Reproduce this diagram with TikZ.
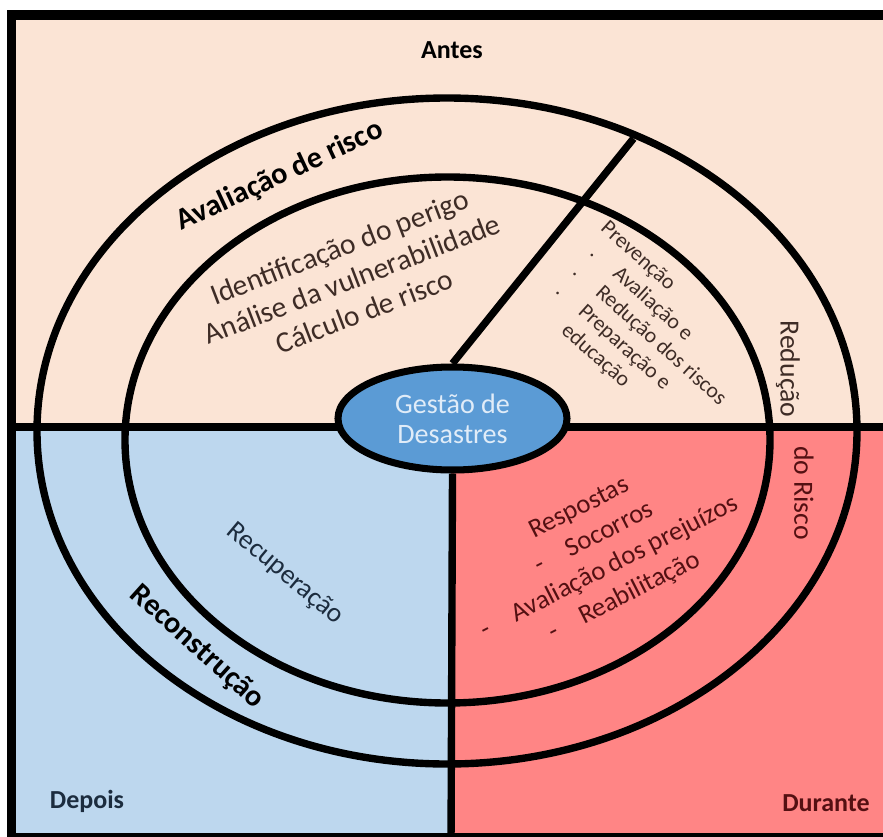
\documentclass[tikz,border=0pt]{standalone}
\usepackage{fontspec}
\setmainfont{Carlito}
\usepackage{xcolor}
\usetikzlibrary{shapes.geometric}

\definecolor{antesCor}{RGB}{251,228,213}
\definecolor{depoisCor}{RGB}{189,215,238}
\definecolor{duranteCor}{RGB}{255,133,133}
\definecolor{gestaoCor}{RGB}{91,155,213}
\definecolor{textoAntes}{RGB}{62,44,38}
\definecolor{textoDepois}{RGB}{28,44,62}
\definecolor{textoDurante}{RGB}{84,16,18}
\definecolor{textoGestao}{RGB}{224,236,248}

\tikzset{
  linha/.style={line width=2.1pt},
  rotulo/.style={inner sep=0pt, font=\fontsize{7.4}{8.8}\selectfont\bfseries},
  rotuloArco/.style={inner sep=0pt, font=\fontsize{8.6}{10.3}\selectfont\bfseries},
  texto/.style n args={2}{inner sep=0pt, font=\fontsize{#1}{#2}\selectfont},
  centro/.style={ellipse, draw, line width=2pt, fill=gestaoCor, text=textoGestao,
    minimum width=2.29cm, minimum height=1.03cm, inner sep=0pt, align=center,
    font=\fontsize{8}{8.6}\selectfont}
}
\newcommand{\marca}{\makebox[1.8em][l]{\hspace{0.4em}.}}

\begin{document}
\begin{tikzpicture}
\useasboundingbox (0,0) rectangle (8.83,8.36);
\fill[white] (0,0) rectangle (8.83,8.36);
\clip (0,0) rectangle (8.83,8.36);

% Fundos (antes, depois, durante)
\fill[antesCor] (0.115,4.09) rectangle (9.1,8.21);
\fill[depoisCor] (0.115,-0.1) rectangle (4.51,4.09);
\fill[duranteCor] (4.51,-0.1) rectangle (9.1,4.09);

% Elipses
\draw[linha] (4.47,4.05) ellipse [x radius=4.10, y radius=3.33];
\draw[linha] (4.475,3.96) ellipse [x radius=3.225, y radius=2.63];

% Linha horizontal
\draw[linha] (0.115,4.09) -- (9.1,4.09);

% Moldura
\draw[line width=2.6pt] (0.115,-0.012) rectangle (9.1,8.21);

% Gestao de desastres
\coordinate (corte) at (6.335,6.975);
\coordinate (base) at (4.51,-0.1);
\node[centro] (gestao) at (4.525,4.175) {Gestão de\\Desastres};
\draw[linha] (gestao.north) -- (corte);
\draw[linha] (gestao.south) -- (base);

% Fases
\node[rotulo, text=black] (antes) at (4.52,7.86) {Antes};
\node[rotulo, text=textoDepois] (depois) at (0.87,0.35) {Depois};
\node[rotulo, text=textoDurante] (durante) at (8.26,0.33) {Durante};

% Aneis
\node[rotuloArco, text=black, rotate=25] (avaliacao) at (2.80,6.60) {Avaliação de risco};
\node[rotuloArco, text=black, rotate=-42] (reconstrucao) at (1.97,1.89) {Reconstrução};
\node[texto={7.9}{9.5}, text=textoAntes, rotate=-90] (reducao) at (7.88,4.67) {Redução};
\node[texto={7.9}{9.5}, text=textoDurante, rotate=-90] (risco) at (8.04,3.43) {do Risco};

% Conteudo interno
\node[texto={8.4}{9.8}, text=textoAntes, rotate=21, align=center] (identificacao) at (3.52,5.57)
  {Identificação do perigo\\Análise da vulnerabilidade\\Cálculo de risco};
\node[texto={6.2}{7.3}, text=textoAntes, rotate=-42, align=left] (prevencao) at (6.46,5.03)
  {Prevenção\\\marca Avaliação e\\\marca Redução dos riscos\\\marca Preparação e\\\hspace*{1.8em}educação};
\node[texto={7.8}{9.4}, text=textoDepois, rotate=-40] (recuperacao) at (2.85,2.62) {Recuperação};
\node[texto={7.6}{9.4}, text=textoDurante, rotate=27, align=center] (respostas) at (6.02,2.83)
  {Respostas\\-\hspace{1em}Socorros\\-\hspace{1em}Avaliação dos prejuízos\\-\hspace{1em}Reabilitação};

\end{tikzpicture}
\end{document}
